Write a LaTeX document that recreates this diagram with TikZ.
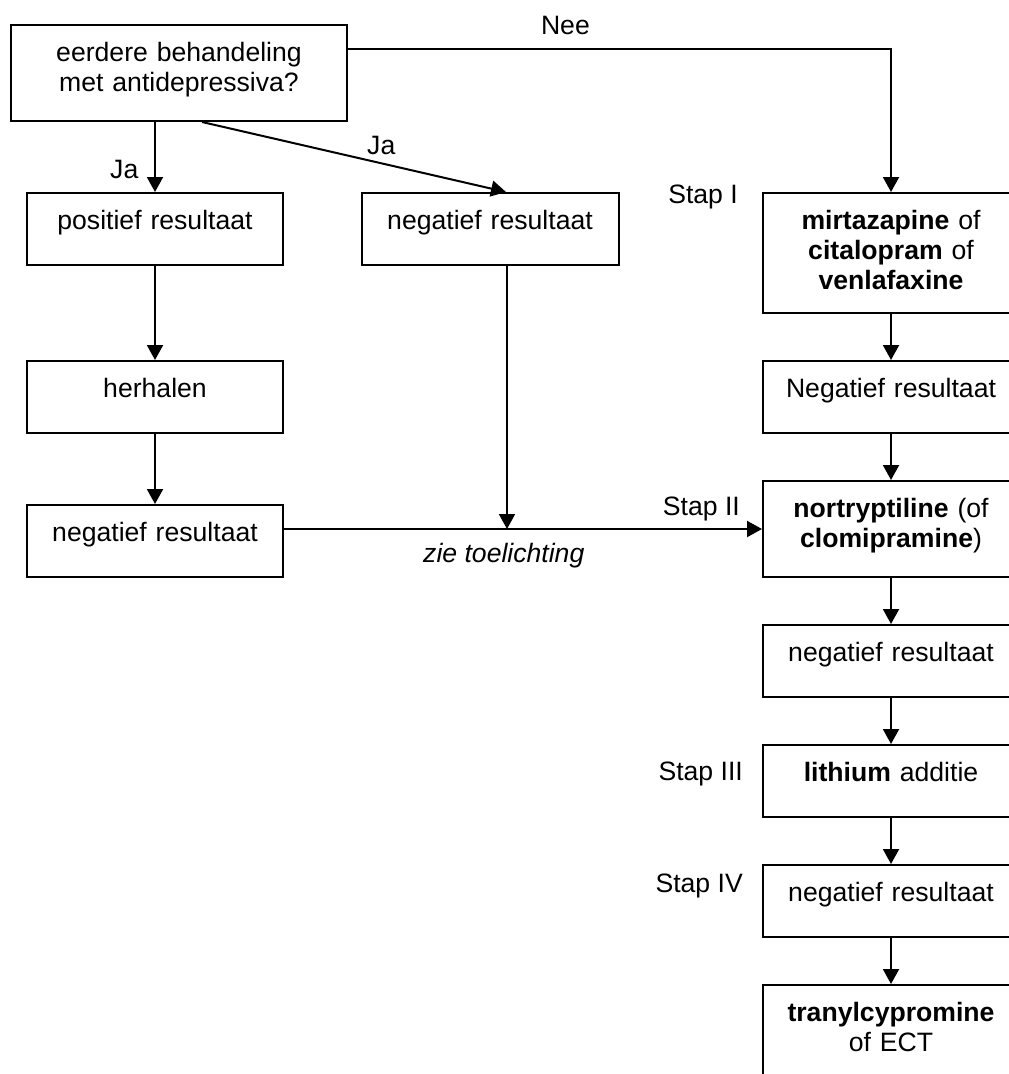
\documentclass[tikz,border=0pt]{standalone}
\usepackage{fontspec}
\setmainfont{Liberation Sans}
\usetikzlibrary{arrows.meta}
\begin{document}
\begin{tikzpicture}[x=1pt,y=-1pt,
  every node/.style={font=\fontsize{26.6}{30}\selectfont},
  box/.style={draw,line width=2pt,rectangle,anchor=north,inner sep=0pt,
    minimum width=256pt,text width=250pt,align=center,text height=36pt,text depth=36pt},
  tall/.style={text depth=#1},
  lbl/.style={inner sep=0pt},
  arr/.style={line width=2pt,-{Triangle[length=15pt,width=16pt]}}]
\useasboundingbox (0,0) rectangle (1009,1074);
\fill[white] (0,0) rectangle (1009,1074);
\clip (0,0) rectangle (1009,1074);
% left and middle
\node[box,minimum width=336pt,text width=330pt,tall=60pt] (q) at (179,24) {eerdere behandeling\\met antidepressiva?};
\node[box] (pos) at (155,192) {positief resultaat};
\node[box] (herh) at (155,360) {herhalen};
\node[box] (negL) at (155,504) {negatief resultaat};
\node[box,minimum width=257pt] (negM) at (490,192) {negatief resultaat};
% right column
\node[box,tall=84pt] (r1) at (891,192) {\textbf{mirtazapine} of\\\textbf{citalopram} of\\\textbf{venlafaxine}};
\node[box] (r2) at (891,360) {Negatief resultaat};
\node[box,tall=60pt] (r3) at (891,480) {\textbf{nortryptiline} (of\\\textbf{clomipramine})};
\node[box] (r4) at (891,624) {negatief resultaat};
\node[box] (r5) at (891,744) {\textbf{lithium} additie};
\node[box] (r6) at (891,864) {negatief resultaat};
\node[box,tall=70pt] (r7) at (891,984) {\textbf{tranylcypromine}\\of ECT};
% labels
\node[lbl,anchor=base west] (ja1) at (110,178) {Ja};
\node[lbl,anchor=base west] (ja2) at (367,154) {Ja};
\node[lbl,anchor=base east] (nee) at (590,34) {Nee};
\node[lbl,anchor=base east] (s1) at (738,203) {Stap I};
\node[lbl,anchor=base east] (s2) at (740,515) {Stap II};
\node[lbl,anchor=base east] (s3) at (743,780) {Stap III};
\node[lbl,anchor=base east] (s4) at (743,892) {Stap IV};
\node[lbl,anchor=base west] (zie) at (423,562) {\itshape zie toelichting};
% connectors
\draw[arr] (pos.north |- q.south) -- (pos.north);
\draw[arr] ([xshift=23pt]q.south) -- ([xshift=16pt]negM.north);
\draw[arr] ([yshift=24pt]q.east) -| (r1.north);
\draw[arr] (pos.south) -- (herh.north);
\draw[arr] (herh.south) -- (negL.north);
\draw[arr] (negL.east |- r3.west) -- (r3.west);
\draw[arr] ([xshift=17pt]negM.south) -- ([xshift=17pt]negM.south |- r3.west);
\draw[arr] (r1.south) -- (r2.north);
\draw[arr] (r2.south) -- (r3.north);
\draw[arr] (r3.south) -- (r4.north);
\draw[arr] (r4.south) -- (r5.north);
\draw[arr] (r5.south) -- (r6.north);
\draw[arr] (r6.south) -- (r7.north);
\end{tikzpicture}
\end{document}
